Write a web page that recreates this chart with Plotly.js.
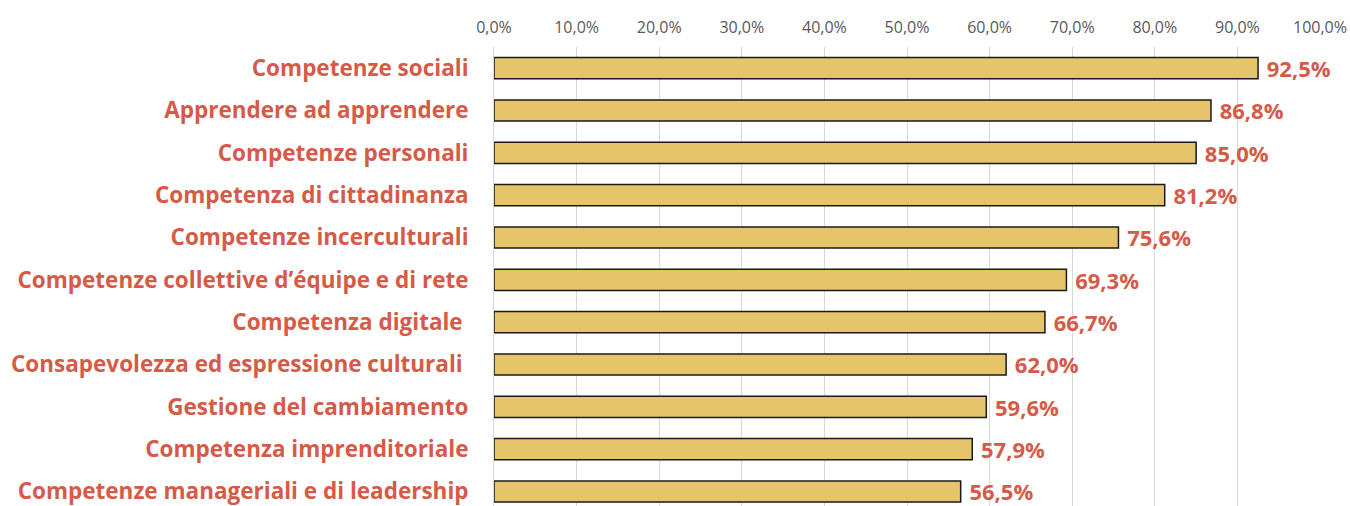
<!DOCTYPE html>
<html>
<head>
<meta charset="utf-8">
<script src="https://cdn.plot.ly/plotly-3.0.1.min.js"></script>
<style>html,body{margin:0;padding:0;background:#fff;}#chart{width:1350px;height:506px;}</style>
</head>
<body>
<div id="chart"></div>
<script>
const categories = [
  "Competenze sociali",
  "Apprendere ad apprendere",
  "Competenze personali",
  "Competenza di cittadinanza",
  "Competenze incerculturali",
  "Competenze collettive d\u2019\u00e9quipe e di rete",
  "Competenza digitale ",
  "Consapevolezza ed espressione culturali ",
  "Gestione del cambiamento",
  "Competenza imprenditoriale",
  "Competenze manageriali e di leadership"
];
const values = [92.5, 86.8, 85.0, 81.2, 75.6, 69.3, 66.7, 62.0, 59.6, 57.9, 56.5];
const tickValues = [0,10,20,30,40,50,60,70,80,90,100];
const tickLabels = ["0,0%","10,0%","20,0%","30,0%","40,0%","50,0%","60,0%","70,0%","80,0%","90,0%","100,0%"];

const red = "#D65A48";
const fam = "'Open Sans', sans-serif";
const trace = {
  type: "bar",
  orientation: "h",
  x: values,
  y: categories,
  width: 0.5,
  marker: {color: "#E6C46A", line: {color: "#1a1a1a", width: 1.5}},
  text: values.map(v => " " + v.toFixed(1).replace(".", ",") + "%"),
  textposition: "outside",
  constraintext: "none",
  cliponaxis: false,
  textfont: {family: fam, size: 22, color: red, weight: 700},
  hoverinfo: "none"
};
const layout = {
  width: 1350, height: 506,
  margin: {l: 494, r: 30, t: 47, b: 0, pad: 0},
  paper_bgcolor: "#fff", plot_bgcolor: "#fff",
  showlegend: false,
  xaxis: {
    side: "top", range: [0, 100], autorange: false,
    tickvals: tickValues, ticktext: tickLabels,
    showgrid: true, gridcolor: "#d9d9d9", gridwidth: 1,
    zeroline: false, showline: false, ticks: "",
    tickfont: {family: fam, size: 16, color: "#595959"},
    ticklabelstandoff: 10
  },
  yaxis: {
    type: "category", categoryorder: "array", categoryarray: categories,
    range: [10.343, -0.5], autorange: false,
    showline: true, linecolor: "#d9d9d9", linewidth: 1,
    showgrid: false, zeroline: false, ticks: "",
    ticklabelstandoff: 20,
    tickfont: {family: fam, size: 22.5, color: red, weight: 700}
  }
};
Plotly.newPlot("chart", [trace], layout, {displayModeBar: false, staticPlot: true});
</script>
</body>
</html>
